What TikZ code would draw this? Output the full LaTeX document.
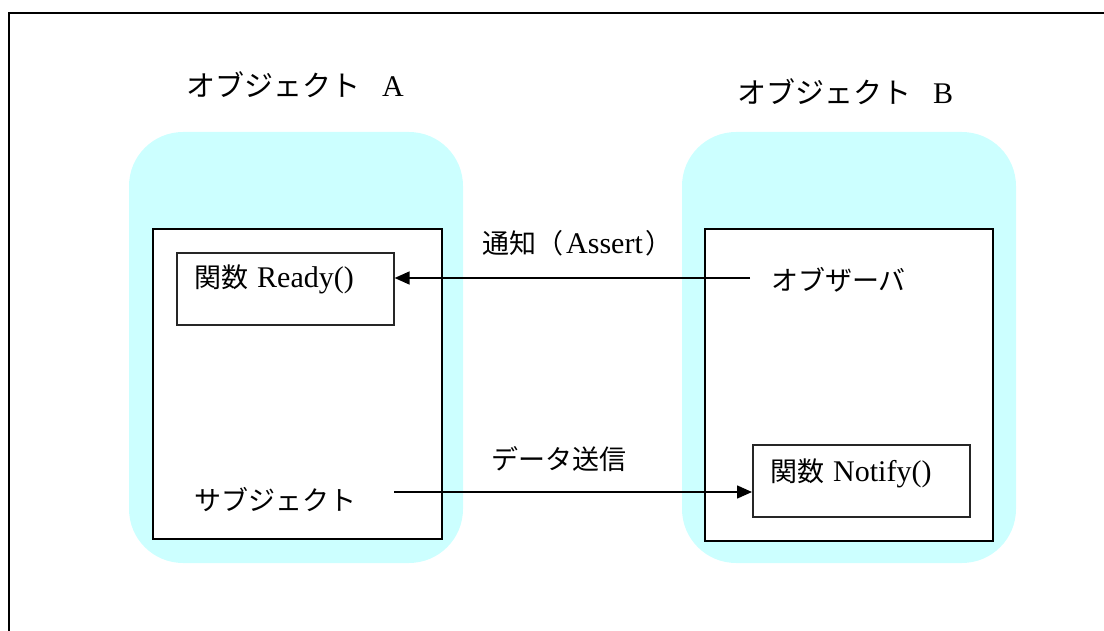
\documentclass[tikz,border=0pt]{standalone}
\usepackage{fontspec}
\setmainfont{Liberation Serif}
\newfontfamily\jp{Noto Sans CJK JP}
\usetikzlibrary{arrows.meta}
\definecolor{objcyan}{HTML}{CCFFFF}
\tikzset{
  objbg/.style={fill=objcyan, draw=none, rounded corners=54pt},
  innerbox/.style={draw=black, line width=2pt, fill=white, inner sep=0pt, anchor=north west},
  funcbox/.style={draw=black!85, line width=1.6pt, fill=white, inner sep=0pt, anchor=north west},
  title/.style={anchor=west, inner sep=0pt, font=\fontsize{29}{32}\selectfont},
  lbl/.style={anchor=west, inner sep=0pt, font=\fontsize{27}{30}\selectfont},
  arr/.style={line width=1.6pt, -{Triangle[length=15pt,width=13pt]}}
}
\newcommand{\lat}[1]{{\fontsize{30}{32}\selectfont #1}}
\begin{document}
\begin{tikzpicture}[x=1pt,y=-1pt]
\useasboundingbox (0,0) rectangle (1104,631);
\draw[line width=2.6pt] (9,631) -- (9,13) -- (1104,13);
% cyan backgrounds
\fill[objbg] (129,132) rectangle (463,563);
\fill[objbg] (682,132) rectangle (1016,563);
% titles
\node[title] (ta) at (186,85) {{\jp オブジェクト}\hspace{22pt}\lat{A}};
\node[title] (tb) at (737,92) {{\jp オブジェクト}\hspace{22pt}\lat{B}};
% inner boxes
\node[innerbox, minimum width=289pt, minimum height=310pt] (boxa) at (152,228) {};
\node[innerbox, minimum width=288pt, minimum height=312pt] (boxb) at (704,228) {};
% function boxes
\node[funcbox, minimum width=217pt, minimum height=72pt] (ready) at (176,252) {};
\node[lbl] (readyt) at (194,279) {{\jp 関数}\hspace{9pt}\lat{Ready()}};
\node[funcbox, minimum width=217pt, minimum height=72pt] (notify) at (752,444) {};
\node[lbl] (notifyt) at (770,473) {{\jp 関数}\hspace{9pt}\lat{Notify()}};
% labels
\node[lbl] (obs) at (771,280) {\jp オブザーバ};
\node[lbl] (sub) at (194,500) {\jp サブジェクト};
\node[lbl] (l1) at (482,243) {{\jp 通知（}\hspace{3pt}\lat{Assert}\hspace{3pt}{\jp ）}};
\node[lbl] (l2) at (491,459) {\jp データ送信};
% arrows
\coordinate (s1) at (750,278);
\coordinate (s2) at (394,492);
\draw[arr] (s1) -- (ready.east |- s1);
\draw[arr] (s2) -- (notify.west |- s2);
\end{tikzpicture}
\end{document}
